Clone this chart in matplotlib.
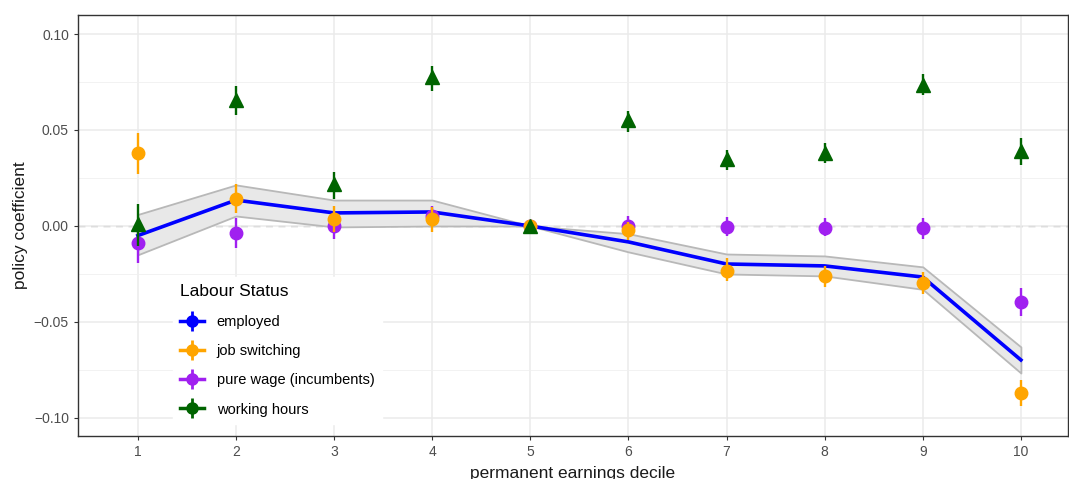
import matplotlib.pyplot as plt
from matplotlib.lines import Line2D
import numpy as np

plt.rcParams['font.family'] = ['Liberation Sans', 'DejaVu Sans']

deciles = np.arange(1, 11)

# employed: coefficient and band
employed = [-0.005, 0.0135, 0.0068, 0.0073, 0.0, -0.0083, -0.0198, -0.0208, -0.0266, -0.0698]
employed_lo = [-0.015, 0.0052, -0.0005, 0.0, 0.0, -0.0135, -0.025, -0.026, -0.033, -0.0766]
employed_hi = [0.006, 0.0214, 0.0135, 0.0135, 0.0, -0.004, -0.0146, -0.0156, -0.0213, -0.063]

# job switching
switching = [0.038, 0.014, 0.0036, 0.0036, 0.0, -0.002, -0.0233, -0.026, -0.0295, -0.087]
switching_lo = [0.027, 0.0068, -0.003, -0.003, 0.0, -0.0073, -0.0286, -0.0318, -0.0354, -0.094]
switching_hi = [0.0484, 0.0219, 0.0104, 0.0099, 0.0, 0.002, -0.0167, -0.0208, -0.024, -0.080]

# pure wage (incumbents)
wage = [-0.0087, -0.0035, 0.0, 0.005, 0.0, 0.0, -0.0005, -0.001, -0.001, -0.0394]
wage_lo = [-0.0193, -0.0114, -0.0068, 0.0, 0.0, -0.0057, -0.0052, -0.0052, -0.0068, -0.047]
wage_hi = [-0.002, 0.0042, 0.007, 0.0105, 0.0, 0.0052, 0.0047, 0.0042, 0.0042, -0.0323]

# working hours
hours = [0.001, 0.0656, 0.022, 0.0776, 0.0, 0.055, 0.0348, 0.038, 0.0734, 0.039]
hours_lo = [-0.0104, 0.0578, 0.014, 0.0703, -0.001, 0.049, 0.029, 0.033, 0.068, 0.0318]
hours_hi = [0.0115, 0.073, 0.028, 0.0835, 0.001, 0.060, 0.0396, 0.043, 0.079, 0.046]

labels = ['employed', 'job switching', 'pure wage (incumbents)', 'working hours']
colors = ['#0000FF', '#FFA500', '#A020F0', '#006400']

W, H = 1069, 479
fig = plt.figure(figsize=(W / 100, H / 100), dpi=100)
ax = fig.add_axes([78 / W, 1 - 436 / H, 990 / W, 421 / H])

ax.set_xlim(0.39, 10.48)
ax.set_ylim(-0.1094, 0.1099)

ax.set_xticks(deciles)
ax.set_yticks([-0.10, -0.05, 0.0, 0.05, 0.10])
ax.set_yticklabels(['\u22120.10', '\u22120.05', '0.00', '0.05', '0.10'])
ax.set_yticks([-0.075, -0.025, 0.025, 0.075], minor=True)
ax.grid(True, which='major', color='#EBEBEB', lw=1.1, zorder=0)
ax.grid(True, which='minor', axis='y', color='#F0F0F0', lw=0.6, zorder=0)
ax.tick_params(which='major', length=3, color='#333333', labelcolor='#4D4D4D', labelsize=10)
ax.tick_params(which='minor', length=0)
for s in ax.spines.values():
    s.set_color('#333333')
    s.set_linewidth(1.0)

ax.axhline(0, color='#B0B0B0', ls=(0, (5, 4)), lw=1.0, zorder=1)

ax.fill_between(deciles, employed_lo, employed_hi, facecolor='#E8E8E8',
                edgecolor='#B8B8B8', lw=1.3, zorder=2)
ax.plot(deciles, employed, color=colors[0], lw=2.6, zorder=3)

series = [(wage, wage_lo, wage_hi, colors[2], 'o', 9),
          (switching, switching_lo, switching_hi, colors[1], 'o', 9),
          (hours, hours_lo, hours_hi, colors[3], '^', 10)]
for k, (v, lo, hi, c, m, ms) in enumerate(series):
    ax.vlines(deciles, lo, hi, color=c, lw=1.7, zorder=4 + k)
    ax.plot(deciles, v, ls='none', marker=m, ms=ms, color=c, mec=c, zorder=4 + k)

ax.set_xlabel('permanent earnings decile', fontsize=12.5, color='#1A1A1A', labelpad=5)
ax.set_ylabel('policy coefficient', fontsize=12.5, color='#1A1A1A', labelpad=4)

handles = []
for c in colors:
    h1 = Line2D([], [], color=c, lw=2.5, marker='o', ms=8)
    h2 = Line2D([], [], color=c, ls='none', marker='|', ms=15, mew=2)
    handles.append((h1, h2))
leg = ax.legend(handles, labels, title='Labour Status', loc='upper left',
                bbox_to_anchor=((173 - 78) / 990, (436 - 277) / 421),
                frameon=True, fancybox=False, edgecolor='white', framealpha=1,
                fontsize=10.5, title_fontsize=12.5, handlelength=1.6,
                labelspacing=1.05, borderpad=0.5, handletextpad=0.9,
                borderaxespad=0)
leg._legend_box.align = 'left'
leg.set_zorder(10)

fig.savefig('out.png', dpi=100)
